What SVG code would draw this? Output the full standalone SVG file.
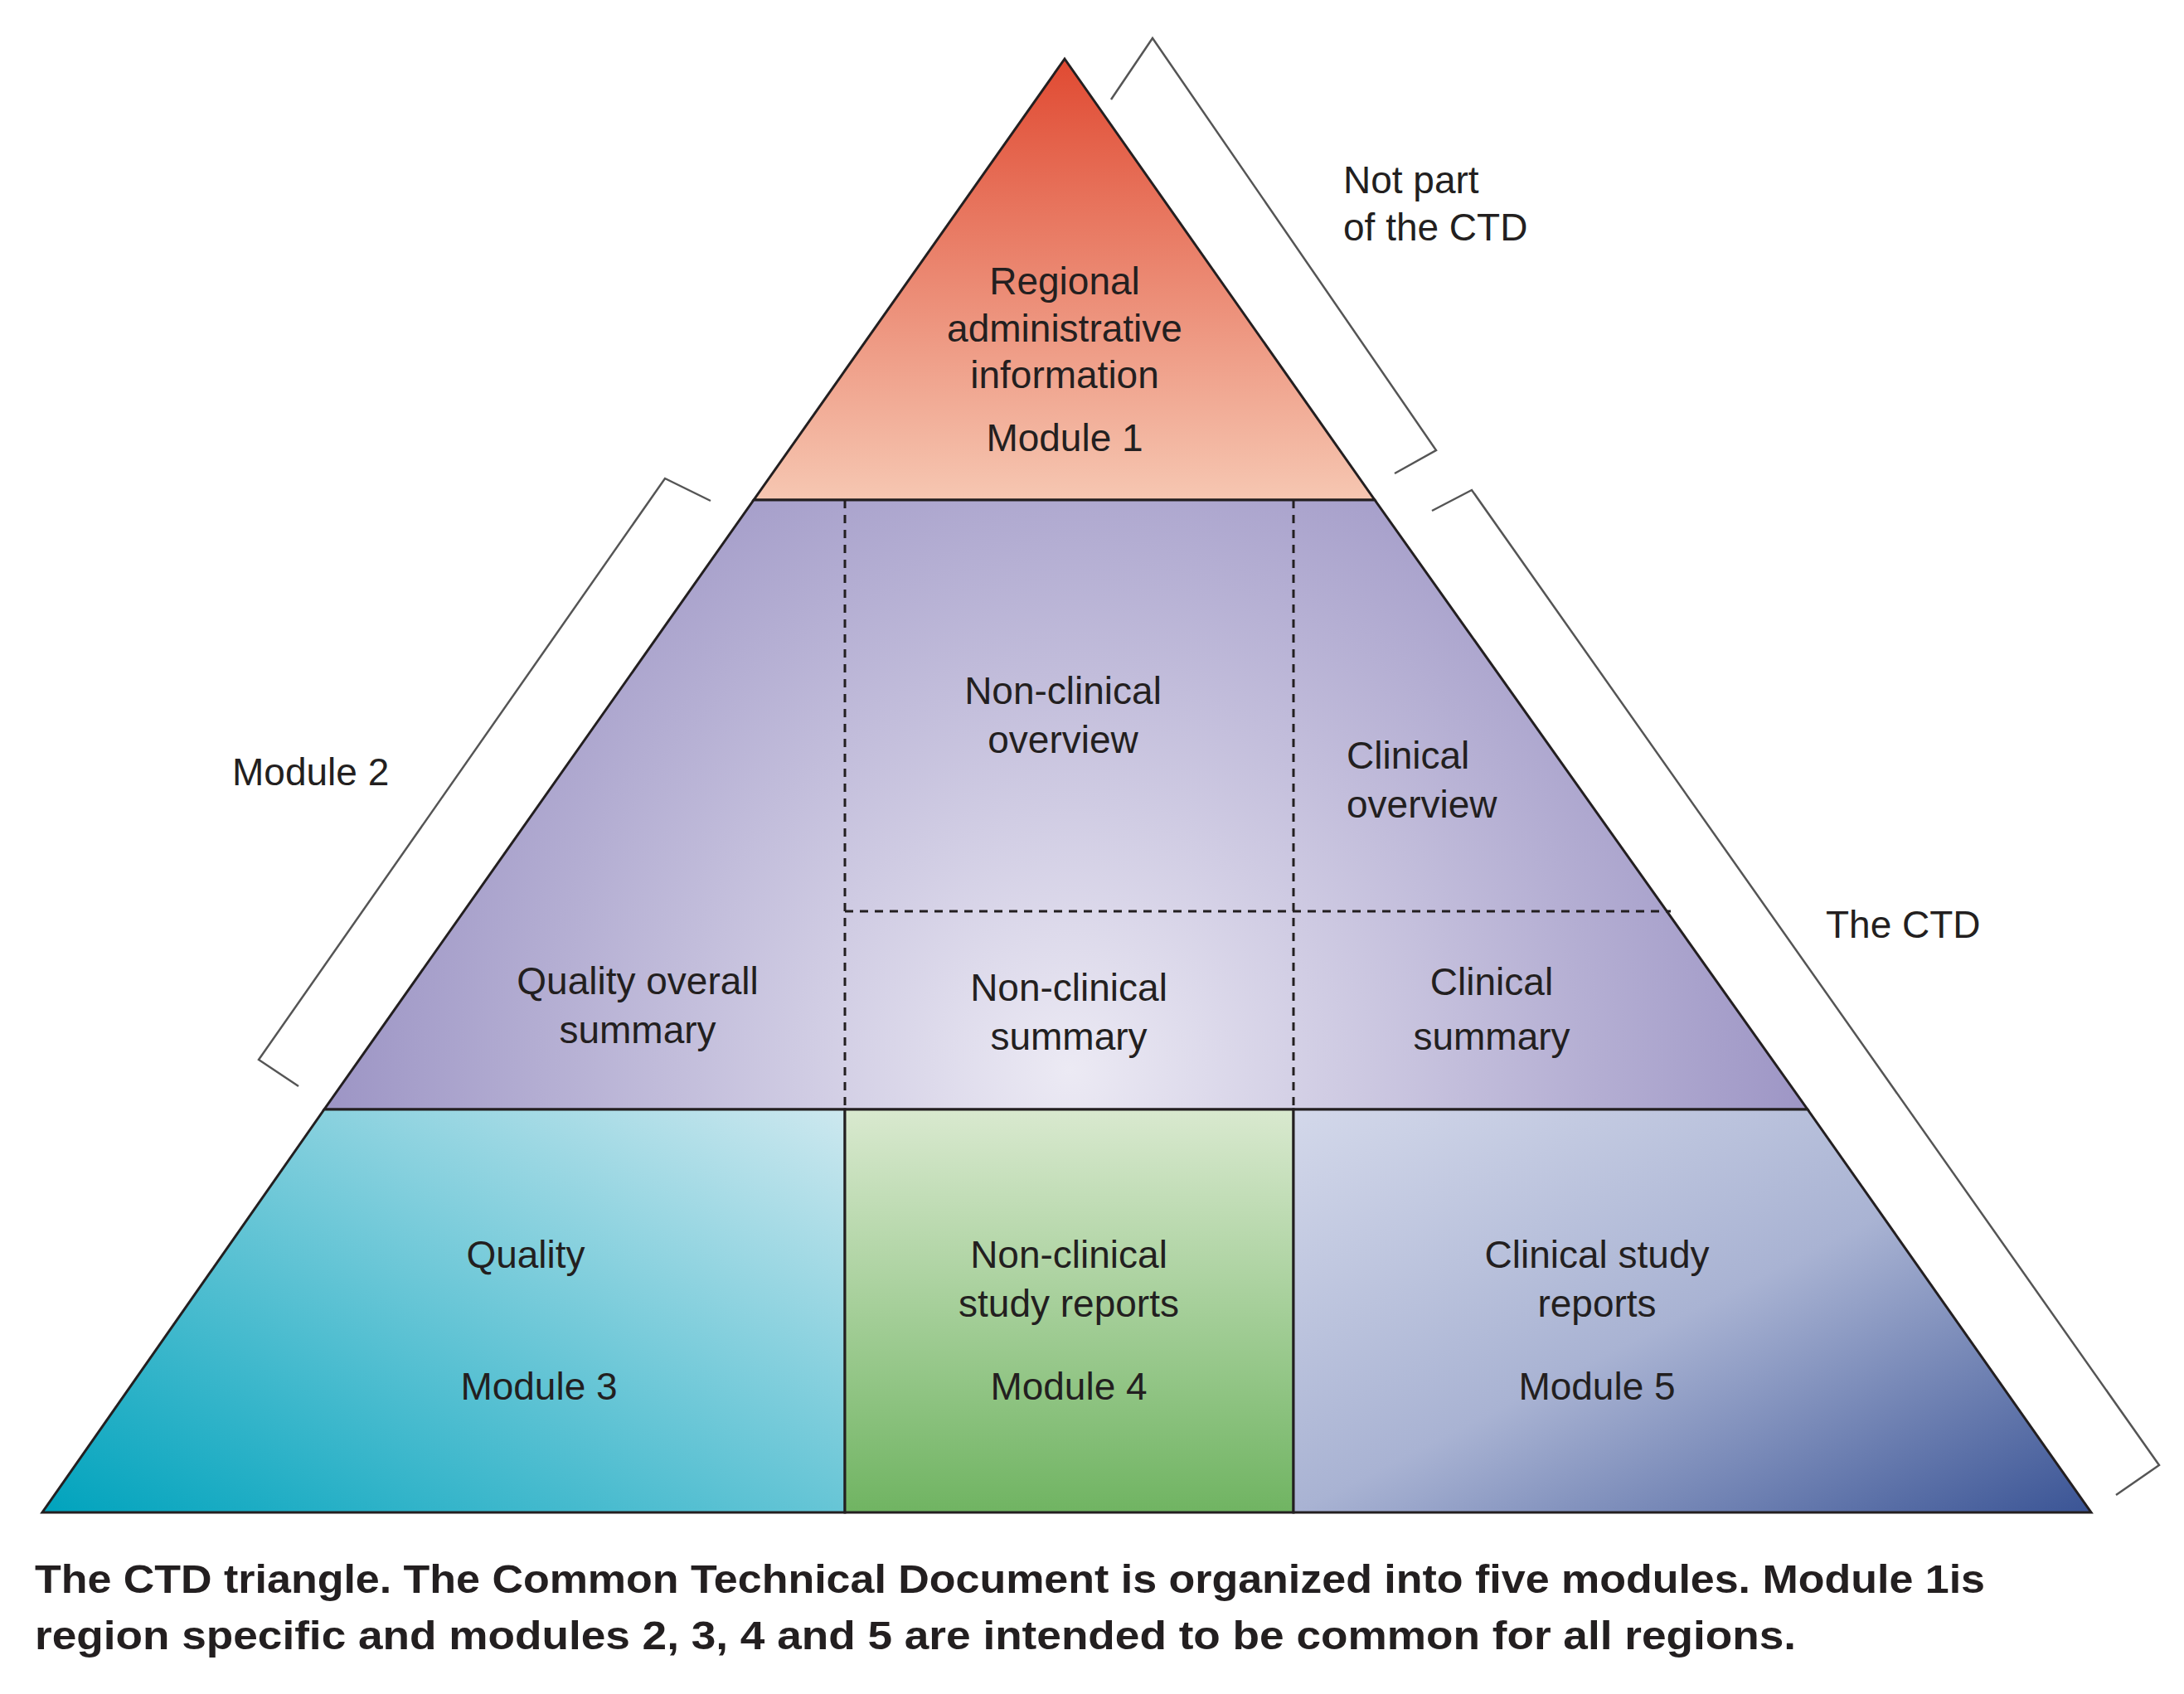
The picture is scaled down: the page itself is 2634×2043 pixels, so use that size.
<svg xmlns="http://www.w3.org/2000/svg" width="2634" height="2043" viewBox="0 0 2634 2043">
<style>
.t{font-family:"Liberation Sans",Arial,sans-serif;font-size:46px;fill:#231f20}
.c{text-anchor:middle}
.cap{font-family:"Liberation Sans",Arial,sans-serif;font-size:48px;font-weight:bold;fill:#231f20}
.br{fill:none;stroke:#555;stroke-width:2.5}
.ed{stroke:#231f20;stroke-width:3}
.ds{fill:none;stroke:#231f20;stroke-width:3;stroke-dasharray:10 8}
</style>
<defs>
<linearGradient id="gTop" x1="0" y1="0" x2="0" y2="1"><stop offset="0" stop-color="#e04a32"/><stop offset="1" stop-color="#f6c7b2"/></linearGradient>
<radialGradient id="gMid" cx="1290" cy="1290" r="950" gradientUnits="userSpaceOnUse"><stop offset="0" stop-color="#eceaf4"/><stop offset="1" stop-color="#9890c2"/></radialGradient>
<linearGradient id="gQ" x1="0" y1="1" x2="1" y2="0"><stop offset="0" stop-color="#00a3bd"/><stop offset="1" stop-color="#cde8ef"/></linearGradient>
<linearGradient id="gN" x1="0" y1="0" x2="0" y2="1"><stop offset="0" stop-color="#d9e9cf"/><stop offset="1" stop-color="#70b462"/></linearGradient>
<linearGradient id="gC" x1="0" y1="0" x2="1" y2="1"><stop offset="0" stop-color="#d3d8ea"/><stop offset="0.5" stop-color="#a9b3d3"/><stop offset="1" stop-color="#3a5495"/></linearGradient>
</defs>
<g id="module1">
<polygon points="1284,71 909,603 1658,603" fill="url(#gTop)" class="ed"/>
<text class="t c" x="1284" y="355">Regional</text>
<text class="t c" x="1284" y="412">administrative</text>
<text class="t c" x="1284" y="468">information</text>
<text class="t c" x="1284" y="544">Module 1</text>
</g>
<g id="module2">
<polygon points="909,603 1658,603 2180,1338 391,1338" fill="url(#gMid)" class="ed"/>
<path class="ds" d="M1019,603V1338M1560,603V1338M1019,1099H2015"/>
<text class="t c" x="1282" y="849">Non-clinical</text>
<text class="t c" x="1282" y="908">overview</text>
<text class="t" x="1624" y="927">Clinical</text>
<text class="t" x="1624" y="986">overview</text>
<text class="t c" x="769" y="1199">Quality overall</text>
<text class="t c" x="769" y="1258">summary</text>
<text class="t c" x="1289" y="1207">Non-clinical</text>
<text class="t c" x="1289" y="1266">summary</text>
<text class="t c" x="1799" y="1200">Clinical</text>
<text class="t c" x="1799" y="1266">summary</text>
</g>
<g id="module3">
<polygon points="391,1338 1019,1338 1019,1824 51,1824" fill="url(#gQ)" class="ed"/>
<text class="t c" x="634" y="1529">Quality</text>
<text class="t c" x="650" y="1688">Module 3</text>
</g>
<g id="module4">
<rect x="1019" y="1338" width="541" height="486" fill="url(#gN)" class="ed"/>
<text class="t c" x="1289" y="1529">Non-clinical</text>
<text class="t c" x="1289" y="1588">study reports</text>
<text class="t c" x="1289" y="1688">Module 4</text>
</g>
<g id="module5">
<polygon points="1560,1338 2180,1338 2522,1824 1560,1824" fill="url(#gC)" class="ed"/>
<text class="t c" x="1926" y="1529">Clinical study</text>
<text class="t c" x="1926" y="1588">reports</text>
<text class="t c" x="1926" y="1688">Module 5</text>
</g>
<g id="connectors">
<polyline class="br" points="1340,120 1390,46 1732,543 1682,571"/>
<polyline class="br" points="857,604 802,577 312,1278 360,1310"/>
<polyline class="br" points="1727,616 1775,591 2604,1767 2552,1803"/>
</g>
<g id="labels">
<text class="t" x="1620" y="233">Not part</text>
<text class="t" x="1620" y="290">of the CTD</text>
<text class="t" x="280" y="947">Module 2</text>
<text class="t" x="2202" y="1131">The CTD</text>
</g>
<g id="caption">
<text class="cap" x="42" y="1921" textLength="2352" lengthAdjust="spacingAndGlyphs">The CTD triangle. The Common Technical Document is organized into five modules. Module 1is</text>
<text class="cap" x="42" y="1989" textLength="2124" lengthAdjust="spacingAndGlyphs">region specific and modules 2, 3, 4 and 5 are intended to be common for all regions.</text>
</g>
</svg>
